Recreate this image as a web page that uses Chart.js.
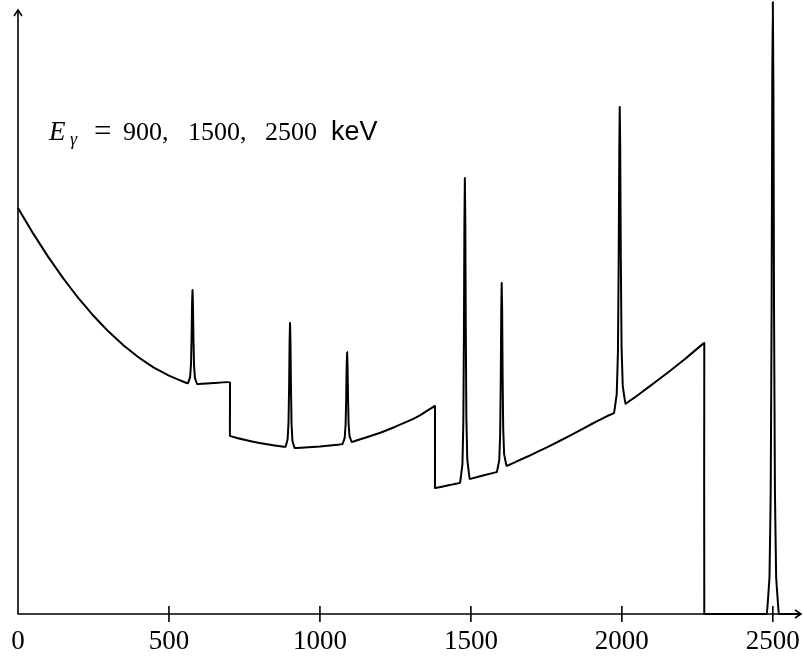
<!DOCTYPE html>
<html>
<head>
<meta charset="utf-8">
<script src="https://cdn.jsdelivr.net/npm/chart.js@4.4.1/dist/chart.umd.min.js"></script>
<style>
  html, body { margin: 0; padding: 0; background: #fff; }
</style>
</head>
<body>
<canvas id="myChart" width="803" height="664"></canvas>
<script>
// spectrum: energy in keV, counts in arbitrary units
const energy = [
  0, 50, 100, 150, 200, 250, 300, 350, 400, 450, 500, 550, 563,
  570, 573, 575, 576.5, 578, 579.5, 581, 583, 586, 593,
  650, 702, 702,
  750, 800, 850, 886,
  893, 896, 898, 899.5, 901, 902.5, 904, 906, 909, 916,
  950, 1000, 1050, 1075,
  1082, 1085, 1087, 1088.5, 1090, 1091.5, 1093, 1095, 1098, 1105,
  1150, 1200, 1250, 1300, 1331, 1381, 1381,
  1400, 1430, 1464,
  1472, 1475, 1477, 1478.5, 1480, 1481.5, 1483, 1485, 1488, 1496,
  1540, 1586,
  1594, 1597, 1599, 1600.5, 1602, 1603.5, 1605, 1607, 1610, 1618,
  1650, 1700, 1750, 1800, 1850, 1900, 1940, 1974,
  1983, 1987, 1989.5, 1991.5, 1993, 1994.5, 1996.5, 1999, 2003, 2012,
  2060, 2110, 2160, 2210, 2273, 2273,
  2400, 2480,
  2489, 2493, 2496, 2498, 2500, 2502, 2504, 2507, 2511, 2520,
  2590
];
const counts = [
  406, 380.6, 357.1, 335.6, 315.9, 298.2, 282.4, 268.5, 256.5, 246.4, 238.3, 232, 230.8,
  237, 250, 278, 310, 324, 309, 277, 249, 236, 230,
  231, 232, 178,
  174.2, 170.9, 168.4, 167.1,
  175, 192, 229, 272, 291, 271, 228, 190, 173, 166,
  166.4, 167.4, 168.9, 170,
  176, 189, 216, 248, 262, 248, 217, 190, 178, 172,
  176.2, 181.3, 187.3, 193.8, 198.6, 208, 126,
  127, 129, 131,
  150, 193, 285, 390, 436, 392, 288, 197, 155, 135,
  138.5, 142,
  154, 181, 237, 303, 331, 304, 240, 186, 160, 148,
  152.3, 159.2, 166.4, 174, 181.9, 190, 196.2, 201,
  220, 262, 355, 465, 507, 467, 358, 267, 228, 210,
  220.5, 231.7, 243.2, 255.2, 271, 0,
  0, 0,
  37, 122, 306, 520, 612, 520, 306, 122, 37, 0,
  0
];
const xTicks = [0, 500, 1000, 1500, 2000, 2500];
const lineLabel = ["900,", "1500,", "2500"];
const unitLabel = "keV";

const points = energy.map((e, i) => ({ x: e, y: counts[i] }));

// axes with arrows, ticks crossing the axis, and the annotation
const axesPlugin = {
  id: "axes",
  afterDraw(chart) {
    const { ctx, chartArea, scales } = chart;
    const x0 = scales.x.getPixelForValue(0);
    const y0 = scales.y.getPixelForValue(0);
    ctx.save();
    ctx.strokeStyle = "#000";
    ctx.lineWidth = 1.6;
    ctx.lineCap = "butt";

    ctx.beginPath();
    ctx.moveTo(x0, y0);
    ctx.lineTo(chartArea.right + 1, y0);
    ctx.moveTo(x0, y0 + 0.8);
    ctx.lineTo(x0, 10);
    ctx.stroke();

    ctx.beginPath();
    ctx.moveTo(chartArea.right - 5, y0 - 4);
    ctx.lineTo(chartArea.right + 1, y0);
    ctx.lineTo(chartArea.right - 5, y0 + 4);
    ctx.moveTo(x0 - 4, 16);
    ctx.lineTo(x0, 10);
    ctx.lineTo(x0 + 4, 16);
    ctx.stroke();

    xTicks.forEach((t) => {
      if (t === 0) return;
      const px = scales.x.getPixelForValue(t);
      ctx.beginPath();
      ctx.moveTo(px, y0 - 8);
      ctx.lineTo(px, y0 + 8);
      ctx.stroke();
    });

    ctx.fillStyle = "#000";
    ctx.textBaseline = "alphabetic";
    ctx.textAlign = "left";
    ctx.font = 'italic 27px "Liberation Serif"';
    ctx.fillText("E", 49, 140);
    ctx.font = 'italic 18px "Liberation Serif"';
    ctx.fillText("γ", 70, 145);
    ctx.font = '31px "Liberation Serif"';
    ctx.fillText("=", 94, 141);
    ctx.font = '26px "Liberation Serif"';
    ctx.fillText(lineLabel[0], 123, 140);
    ctx.fillText(lineLabel[1], 188, 140);
    ctx.fillText(lineLabel[2], 265, 140);
    ctx.font = '27px "Liberation Sans"';
    ctx.fillText(unitLabel, 331, 140);
    ctx.restore();
  }
};

const ctx = document.getElementById("myChart").getContext("2d");
new Chart(ctx, {
  type: "line",
  data: {
    datasets: [
      {
        data: points,
        borderColor: "#000",
        borderWidth: 2,
        borderJoinStyle: "round",
        pointRadius: 0,
        tension: 0.02,
        fill: false,
        clip: false,
      },
    ],
  },
  options: {
    responsive: false,
    animation: false,
    events: [],
    layout: { padding: { top: 12, left: 18, right: 3, bottom: 0 } },
    plugins: { legend: { display: false }, tooltip: { enabled: false } },
    scales: {
      x: {
        type: "linear",
        min: 0,
        max: 2590,
        grid: { display: false, drawTicks: false },
        border: { display: false },
        afterBuildTicks: (s) => {
          s.ticks = xTicks.map((v) => ({ value: v }));
        },
        afterFit: (s) => {
          s.height = 50;
          s.paddingLeft = 0;
          s.paddingRight = 0;
        },
        ticks: {
          autoSkip: false,
          maxRotation: 0,
          padding: 12,
          color: "#000",
          font: { family: '"Liberation Serif", serif', size: 27 },
          callback: (v) => String(v),
        },
      },
      y: {
        display: false,
        min: 0,
        max: 602,
      },
    },
  },
  plugins: [axesPlugin],
});
</script>
</body>
</html>
